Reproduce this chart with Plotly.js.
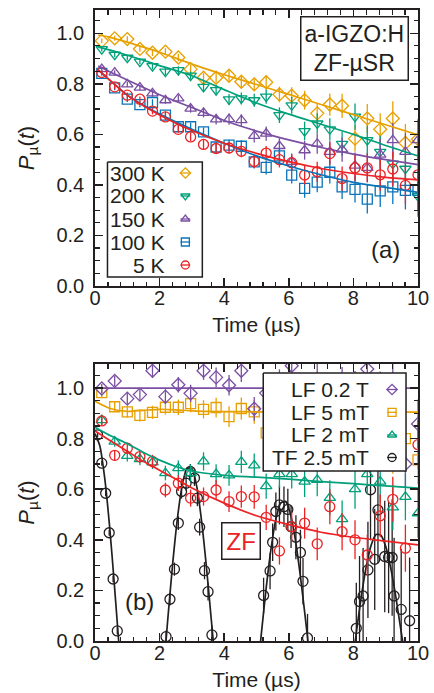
<!DOCTYPE html>
<html><head><meta charset="utf-8">
<script src="https://cdn.plot.ly/plotly-3.0.1.min.js"></script>
<style>html,body{margin:0;padding:0;background:#fff;}#chart{width:434px;height:693px;}</style>
</head><body><div id="chart"></div>
<script>
// ================= DATA =================
// common time grid of the binned ZF/LF data (µs)
const time = [0.21,0.61,1.00,1.39,1.78,2.18,2.58,2.96,3.36,3.75,4.15,4.53,4.93,5.30,5.71,6.09,6.49,6.88,7.27,7.65,8.05,8.43,8.83,9.22,9.61,10.0];

// (a) ZF-µSR, a-IGZO:H
const p300K = [0.970,0.980,0.977,0.938,0.923,0.927,0.904,0.858,0.824,0.824,0.832,0.808,0.798,0.806,0.758,0.753,0.735,0.683,0.718,0.713,0.583,0.663,0.620,0.663,0.566,0.581];
const p200K = [0.937,0.915,0.903,0.888,0.870,0.848,0.854,0.832,0.788,0.775,0.738,0.742,0.735,0.749,0.676,0.715,0.613,0.643,0.620,0.562,0.670,0.577,0.531,0.484,0.464,0.355];
const p150K = [0.858,0.844,0.798,0.785,0.762,0.735,0.742,0.702,0.685,0.659,0.660,0.656,0.594,0.603,0.554,0.491,0.537,0.563,0.531,0.540,0.476,0.467,0.520,0.577,0.531,0.577];
const p100K = [0.841,0.784,0.739,0.718,0.726,0.676,0.630,0.630,0.610,0.550,0.557,0.553,0.491,0.469,0.515,0.439,0.386,0.411,0.450,0.392,0.382,0.344,0.376,0.392,0.378,0.378];
const p5K   = [0.845,0.788,0.755,0.739,0.692,0.669,0.620,0.590,0.560,0.544,0.546,0.533,0.493,0.526,0.500,0.488,0.439,0.452,0.524,0.425,0.467,0.467,0.440,0.463,0.398,0.440];
const errTop = [0.009,0.010,0.011,0.011,0.013,0.014,0.015,0.016,0.018,0.020,0.022,0.024,0.026,0.028,0.031,0.033,0.037,0.040,0.044,0.048,0.052,0.057,0.063,0.068,0.075,0.081];

const fitTimeTop = [0.1,0.5,1,1.5,2,3,4,5,6,7,8,9,10];
const fit300K = [0.993,0.983,0.965,0.945,0.925,0.878,0.836,0.797,0.758,0.718,0.678,0.638,0.598];
const fit200K = [0.945,0.932,0.913,0.893,0.872,0.832,0.777,0.724,0.680,0.640,0.600,0.556,0.515];
const fit150K = [0.870,0.845,0.815,0.785,0.757,0.706,0.655,0.613,0.578,0.548,0.522,0.500,0.480];
const fit100K = [0.855,0.810,0.755,0.715,0.680,0.620,0.565,0.515,0.475,0.440,0.410,0.390,0.370];
const fit5K   = [0.855,0.810,0.755,0.713,0.677,0.615,0.565,0.525,0.492,0.465,0.445,0.430,0.420];

// (b) field dependence
const lf02T = [0.998,1.028,0.958,0.974,1.068,0.966,1.013,0.979,1.068,1.042,1.011,1.068,0.918,0.980,1.020,1.088,0.990,1.030,0.970,1.010,0.990,1.075,0.980,1.020,0.700,0.858];
const lf5mT = [0.982,0.926,0.906,0.892,0.904,0.924,0.924,0.938,0.916,0.923,0.887,0.919,0.906,0.823,0.900,0.910,0.890,0.920,0.900,0.910,0.880,0.900,0.890,0.750,0.800,0.716];
const lf2mT = [0.873,0.788,0.732,0.719,0.706,0.664,0.683,0.664,0.710,0.660,0.655,0.708,0.694,0.612,0.660,0.660,0.630,0.637,0.566,0.482,0.600,0.660,0.630,0.528,0.570,0.505];
const zf    = [0.870,0.734,0.762,0.729,0.710,0.597,0.624,0.565,0.571,0.597,0.551,0.571,0.570,0.489,0.356,0.452,0.466,0.384,0.531,0.432,0.400,0.340,0.495,0.560,0.367,0.776];
const errBottom = [0.018,0.020,0.022,0.024,0.026,0.029,0.031,0.034,0.036,0.039,0.041,0.044,0.047,0.050,0.054,0.057,0.061,0.065,0.069,0.073,0.077,0.081,0.085,0.089,0.093,0.097];

const fitTimeBottom = [0,0.5,1,1.5,2,2.5,3,4,5,6,7,8,9,10];
const fitLF02T = [1.0,1.0,1.0,1.0,1.0,1.0,1.0,1.0,1.0,1.0,1.0,1.0,1.0,1.0];
const fitLF5mT = [0.948,0.918,0.908,0.912,0.916,0.914,0.910,0.907,0.906,0.905,0.905,0.905,0.905,0.905];
const fitLF2mT = [0.845,0.810,0.780,0.745,0.715,0.690,0.672,0.655,0.648,0.640,0.630,0.622,0.613,0.604];
const fitZF    = [0.830,0.790,0.750,0.710,0.675,0.640,0.605,0.545,0.495,0.460,0.430,0.410,0.395,0.380];

// TF 2.5 mT (finer binning)
const tfTime = [0.08,0.21,0.33,0.44,0.56,0.69,
  2.20,2.32,2.46,2.58,2.68,2.82,2.95,3.08,3.17,3.24,3.39,3.50,3.62,
  5.22,5.42,5.50,5.60,5.71,5.85,5.97,6.07,6.22,6.36,6.44,6.58,
  8.09,8.19,8.30,8.45,8.53,8.66,8.76,8.97,9.09,9.20,9.26,9.48,9.74];
const tf = [0.815,0.703,0.584,0.428,0.245,0.040,
  0.017,0.165,0.284,0.466,0.591,0.624,0.670,0.644,0.565,0.450,0.278,0.195,0.024,
  0.180,0.277,0.390,0.512,0.538,0.531,0.520,0.452,0.410,0.350,0.236,0.012,
  0.050,0.156,0.178,0.281,0.598,0.323,0.518,0.334,0.330,0.330,0.178,0.125,0.080];
const tfErr = [0.010,0.010,0.012,0.012,0.013,0.013,
  0.025,0.025,0.026,0.027,0.028,0.030,0.030,0.031,0.032,0.033,0.034,0.035,0.036,
  0.070,0.072,0.074,0.075,0.077,0.080,0.082,0.084,0.087,0.090,0.092,0.095,
  0.180,0.180,0.190,0.190,0.200,0.200,0.210,0.220,0.220,0.230,0.230,0.240,0.250];
const tfFitTime = [0,0.15,0.3,0.45,0.6,0.75,0.9,null,
  2.1,2.25,2.4,2.55,2.7,2.85,3.0,3.15,3.3,3.45,3.6,3.75,null,
  5.0,5.15,5.3,5.45,5.6,5.75,5.9,6.05,6.2,6.35,6.5,6.65,null,
  7.95,8.1,8.25,8.4,8.55,8.7,8.85,9.0,9.15,9.3,9.45,9.6];
const tfFit = [0.820,0.771,0.645,0.456,0.222,-0.030,-0.274,null,
  -0.151,0.081,0.299,0.483,0.615,0.682,0.681,0.611,0.474,0.292,0.085,-0.122,null,
  -0.160,0.029,0.210,0.365,0.482,0.545,0.552,0.503,0.403,0.265,0.104,-0.064,null,
  -0.105,0.042,0.180,0.296,0.379,0.421,0.418,0.374,0.292,0.185,0.061,-0.064];

const legendTop = ['300 K','200 K','150 K','100 K','5 K'];
const legendBottom = ['LF 0.2 T','LF 5 mT','LF 2 mT','TF 2.5 mT'];

// ================= STYLE / LAYOUT =================
const dark = '#231f20';
const FONT = 'Liberation Sans, Arial, Helvetica, sans-serif';
const col = {orange:'#e8a000', green:'#00a07a', purple:'#7a4fa3', blue:'#0a74b8', red:'#ec2224', black:'#231f20'};

const W = 434, H = 693, ML = 94.5, MR = 16, MT = 10, MB = 52;
const PW = W - ML - MR, PH = H - MT - MB;
const pxX = p => (p - ML) / PW;
const pxY = p => (H - MB - p) / PH;

function dataTrace(x, y, err, color, symbol, xa, ya, size) {
  return {type:'scatter', mode:'markers', x, y, xaxis:xa, yaxis:ya, showlegend:false, cliponaxis:true,
    error_y:{type:'data', array:err, visible:true, color, thickness:1.3, width:0},
    marker:{symbol, size:size||10, color, line:{color, width:1.3}}};
}
function fitTrace(x, y, color, xa, ya) {
  return {type:'scatter', mode:'lines', x, y, xaxis:xa, yaxis:ya, showlegend:false, connectgaps:false,
    line:{color, width:1.7, shape:'spline', smoothing:0.7}, hoverinfo:'skip'};
}

const traces = [
  // panel (a)
  dataTrace(time, p300K, errTop, col.orange, 'diamond-open', 'x', 'y', 10),
  dataTrace(time, p200K, errTop, col.green, 'triangle-down-open', 'x', 'y'),
  dataTrace(time, p150K, errTop, col.purple, 'triangle-up-open', 'x', 'y'),
  dataTrace(time, p100K, errTop, col.blue, 'square-open', 'x', 'y'),
  dataTrace(time, p5K, errTop, col.red, 'circle-open', 'x', 'y'),
  fitTrace(fitTimeTop, fit300K, col.orange, 'x', 'y'),
  fitTrace(fitTimeTop, fit200K, col.green, 'x', 'y'),
  fitTrace(fitTimeTop, fit150K, col.purple, 'x', 'y'),
  fitTrace(fitTimeTop, fit100K, col.blue, 'x', 'y'),
  fitTrace(fitTimeTop, fit5K, col.red, 'x', 'y'),
  // panel (b)
  dataTrace(tfTime, tf, tfErr, col.black, 'circle-open', 'x2', 'y2'),
  fitTrace(tfFitTime, tfFit, col.black, 'x2', 'y2'),
  dataTrace(time, lf2mT, errBottom, col.green, 'triangle-up-open', 'x2', 'y2'),
  dataTrace(time, zf, errBottom, col.red, 'circle-open', 'x2', 'y2'),
  dataTrace(time, lf5mT, errBottom, col.orange, 'square-open', 'x2', 'y2'),
  dataTrace(time, lf02T, errBottom, col.purple, 'diamond-open', 'x2', 'y2', 10),
  fitTrace(fitTimeBottom, fitLF2mT, col.green, 'x2', 'y2'),
  fitTrace(fitTimeBottom, fitZF, col.red, 'x2', 'y2'),
  fitTrace(fitTimeBottom, fitLF5mT, col.orange, 'x2', 'y2'),
  fitTrace(fitTimeBottom, fitLF02T, col.purple, 'x2', 'y2'),
];

// legend boxes (drawn on pixel-scaled overlay axes so they cover the data)
function boxTrace(x0, x1, y0, y1, xa, ya) {
  return {type:'scatter', mode:'lines', x:[x0,x1,x1,x0,x0], y:[y0,y0,y1,y1,y0], xaxis:xa, yaxis:ya,
    fill:'toself', fillcolor:'#ffffff', line:{color:dark, width:1.5}, showlegend:false, hoverinfo:'skip'};
}
function keyTrace(x, y, color, symbol, xa, ya, size) {
  return [
    {type:'scatter', mode:'markers', x:[x], y:[y], xaxis:xa, yaxis:ya, showlegend:false, hoverinfo:'skip',
      marker:{symbol, size:size||8, color, line:{color, width:1.3}}},
    {type:'scatter', mode:'markers', x:[x], y:[y], xaxis:xa, yaxis:ya, showlegend:false, hoverinfo:'skip',
      marker:{symbol:'line-ew', size:7, color, line:{color, width:1.3}}}
  ];
}
const keyTop = {x:185, rows:[173,196,219,242,265], textX:167,
  colors:[col.orange,col.green,col.purple,col.blue,col.red],
  symbols:['diamond-open','triangle-down-open','triangle-up-open','square-open','circle-open']};
const keyBot = {x:392, rows:[389.5,412.3,435,457.5], textX:371,
  colors:[col.purple,col.orange,col.green,col.black],
  symbols:['diamond-open','square-open','triangle-up-open','circle-open']};

traces.push(boxTrace(107, 202, 162, 277, 'x3', 'y3'));
keyTop.rows.forEach((r,i) => traces.push(...keyTrace(keyTop.x, r, keyTop.colors[i], keyTop.symbols[i], 'x3', 'y3')));
traces.push(boxTrace(263, 406, 373, 471, 'x4', 'y4'));
keyBot.rows.forEach((r,i) => traces.push(...keyTrace(keyBot.x, r, keyBot.colors[i], keyBot.symbols[i], 'x4', 'y4')));

function xAxis(anchor) {
  return {anchor, domain:[0,1], range:[0,10], dtick:2, tick0:0, ticks:'inside', ticklen:8, tickwidth:1.5, tickcolor:dark,
    minor:{dtick:0.4, ticks:'inside', ticklen:4.5, tickwidth:1.2, tickcolor:dark},
    showline:true, linewidth:1.8, linecolor:dark, mirror:'ticks', showgrid:false, zeroline:false,
    tickfont:{family:FONT, size:20, color:dark}, ticklabelstandoff:-7,
    title:{text:'Time (µs)', font:{family:FONT, size:21, color:dark}, standoff:9}};
}
function yAxis(anchor, domain, top) {
  return {anchor, domain, range:[0, top], dtick:0.2, tick0:0, tickformat:'.1f', ticks:'inside', ticklen:8, tickwidth:1.5, tickcolor:dark,
    minor:{dtick:0.05, ticks:'inside', ticklen:4.5, tickwidth:1.2, tickcolor:dark},
    showline:true, linewidth:1.8, linecolor:dark, mirror:'ticks', showgrid:false, zeroline:false,
    tickfont:{family:FONT, size:20, color:dark}, ticklabelstandoff:5,
    title:{text:'<i>P</i><sub>µ</sub>(<i>t</i>)', font:{family:FONT, size:22, color:dark}, standoff:16}};
}
const topDomain = [pxY(286), 1];
const botDomain = [0, pxY(364)];

function ann(text, xp, yp, size, extra) {
  return Object.assign({text, xref:'paper', yref:'paper', x:pxX(xp), y:pxY(yp), showarrow:false,
    xanchor:'center', yanchor:'middle', font:{family:FONT, size, color:dark}}, extra||{});
}
const annotations = [
  ann('a-IGZO:H<br>ZF-µSR', 354, 48.7, 23, {bordercolor:dark, borderwidth:1.5, borderpad:3, bgcolor:'#ffffff'}),
  ann('(a)', 385, 250, 24),
  ann('(b)', 139, 601, 24),
  ann('ZF', 241, 540.5, 24, {font:{family:FONT, size:24, color:col.red}, bordercolor:dark, borderwidth:1.5, borderpad:4, bgcolor:'#ffffff'}),
];
legendTop.forEach((t,i) => annotations.push(ann(t, keyTop.textX, keyTop.rows[i], 21, {xanchor:'right'})));
legendBottom.forEach((t,i) => annotations.push(ann(t, keyBot.textX, keyBot.rows[i], 21, {xanchor:'right'})));

const layout = {
  width:W, height:H, margin:{l:ML, r:MR, t:MT, b:MB, pad:0},
  paper_bgcolor:'#ffffff', plot_bgcolor:'#ffffff', showlegend:false,
  font:{family:FONT, color:dark},
  xaxis: xAxis('y'),
  yaxis: yAxis('x', topDomain, 1.092),
  xaxis2: xAxis('y2'),
  yaxis2: yAxis('x2', botDomain, 1.095),
  xaxis3: {overlaying:'x', anchor:'y3', range:[ML, ML+PW], visible:false, fixedrange:true},
  yaxis3: {overlaying:'y', anchor:'x3', range:[286, MT], visible:false, fixedrange:true},
  xaxis4: {overlaying:'x2', anchor:'y4', range:[ML, ML+PW], visible:false, fixedrange:true},
  yaxis4: {overlaying:'y2', anchor:'x4', range:[H-MB, 364], visible:false, fixedrange:true},
  annotations
};

Plotly.newPlot('chart', traces, layout, {staticPlot:true, displayModeBar:false});
</script>
</body></html>
